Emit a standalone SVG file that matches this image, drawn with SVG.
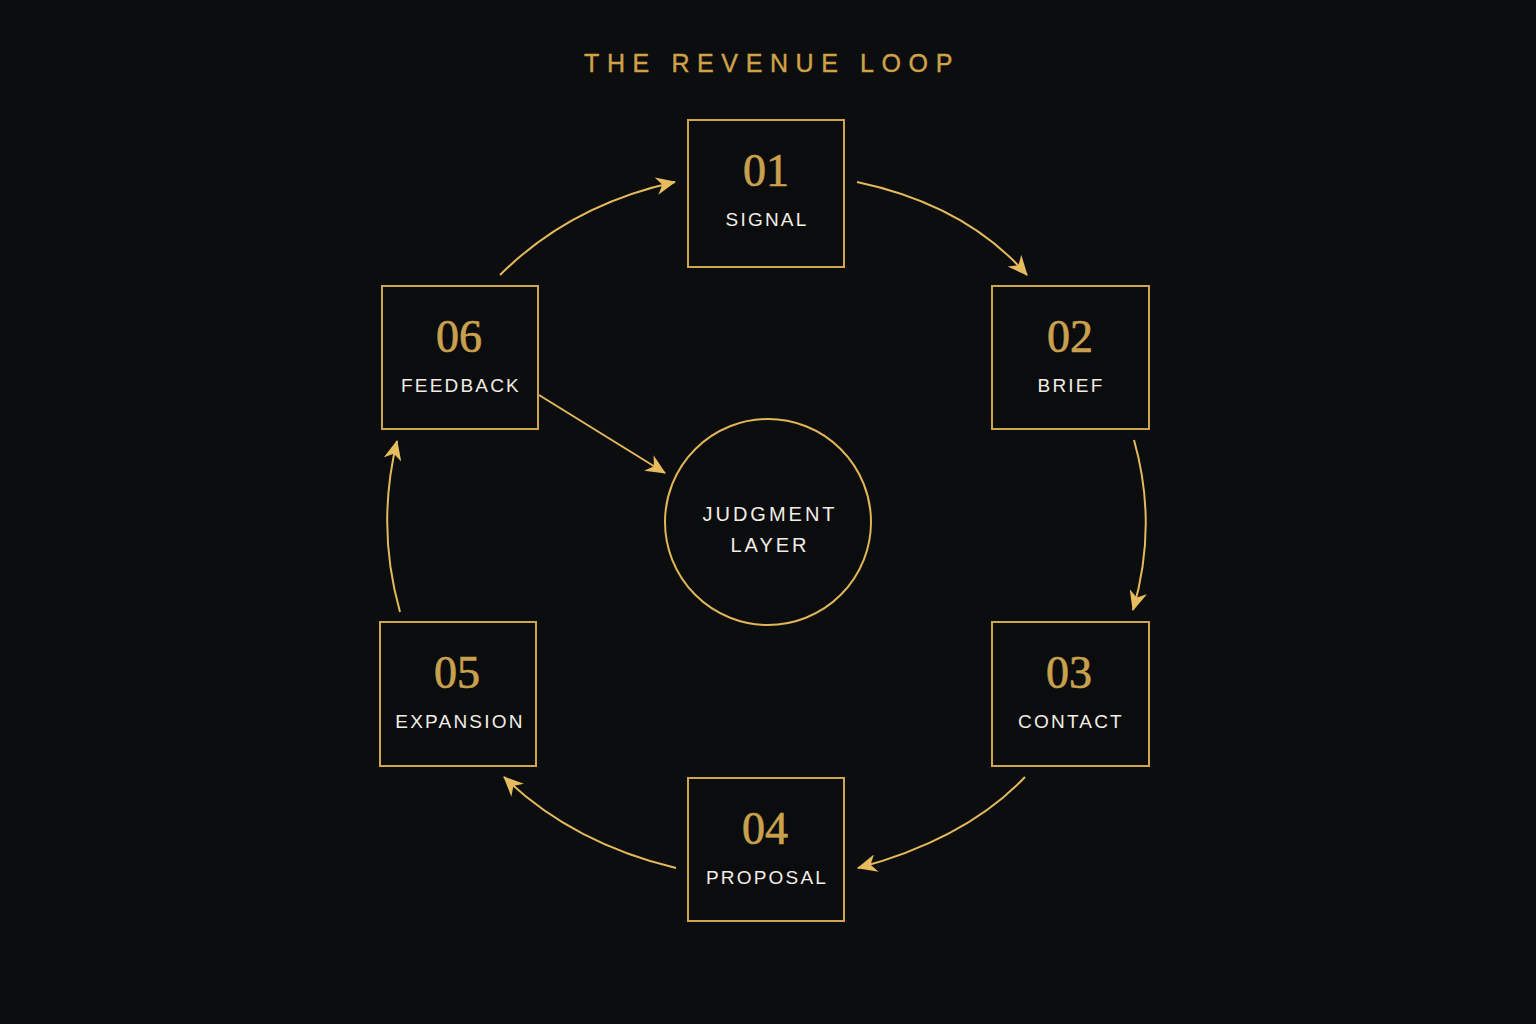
<svg xmlns="http://www.w3.org/2000/svg" width="1536" height="1024" viewBox="0 0 1536 1024">
<defs>
<style>
.box{fill:#0b0c0e;stroke:#cfa64e;stroke-width:2}
.num{font-family:"Liberation Serif","DejaVu Serif",serif;font-size:46px;fill:#c9a14e;stroke:#c9a14e;stroke-width:0.7px;text-anchor:middle}
.lbl{font-family:"Liberation Sans","DejaVu Sans",sans-serif;font-size:19px;fill:#f2eee6;text-anchor:middle;letter-spacing:2.2px}
.conn{fill:none;stroke:#e3b95c;stroke-width:2;marker-end:url(#arr)}
.title{font-family:"Liberation Sans","DejaVu Sans",sans-serif;font-size:25px;fill:#cfa24a;stroke:#cfa24a;stroke-width:0.4px;text-anchor:middle;letter-spacing:7.6px}
</style>
<marker id="arr" viewBox="0 0 20 18" refX="19" refY="9" markerWidth="20" markerHeight="18" markerUnits="userSpaceOnUse" orient="auto">
<path d="M0,0 L20,9 L0,18 L6,9 Z" fill="#e6bc5f"/>
</marker>
</defs>
<rect width="1536" height="1024" fill="#0b0d0f"/>
<text class="title" x="772" y="72">THE REVENUE LOOP</text>

<g id="connectors">
<path class="conn" d="M500,275 Q570,205 675,182"/>
<path class="conn" d="M857,182 Q966,205 1027,275"/>
<path class="conn" d="M1134,440 Q1158,525 1133,610"/>
<path class="conn" d="M1025,777 Q966,839 858,868"/>
<path class="conn" d="M676,868 Q572,843 504,777"/>
<path class="conn" d="M400,612 Q376,527 397,441"/>
<path class="conn" d="M539,395 L665,473"/>
</g>

<g id="node-01">
<rect class="box" x="688" y="120" width="156" height="147"/>
<text class="num" x="766" y="186">01</text>
<text class="lbl" x="767" y="226">SIGNAL</text>
</g>
<g id="node-02">
<rect class="box" x="992" y="286" width="157" height="143"/>
<text class="num" x="1070" y="352">02</text>
<text class="lbl" x="1071" y="392">BRIEF</text>
</g>
<g id="node-03">
<rect class="box" x="992" y="622" width="157" height="144"/>
<text class="num" x="1069" y="688">03</text>
<text class="lbl" x="1071" y="728">CONTACT</text>
</g>
<g id="node-04">
<rect class="box" x="688" y="778" width="156" height="143"/>
<text class="num" x="765" y="844">04</text>
<text class="lbl" x="767" y="884">PROPOSAL</text>
</g>
<g id="node-05">
<rect class="box" x="380" y="622" width="156" height="144"/>
<text class="num" x="457" y="688">05</text>
<text class="lbl" x="460" y="728">EXPANSION</text>
</g>
<g id="node-06">
<rect class="box" x="382" y="286" width="156" height="143"/>
<text class="num" x="459" y="352">06</text>
<text class="lbl" x="461" y="392">FEEDBACK</text>
</g>
<g id="node-judgment">
<circle cx="768" cy="522" r="103" fill="#0b0c0e" stroke="#e0b658" stroke-width="2"/>
<text class="lbl" x="770" y="521" style="font-size:20px;letter-spacing:3px">JUDGMENT</text>
<text class="lbl" x="770" y="552" style="font-size:20px;letter-spacing:3px">LAYER</text>
</g>
</svg>
